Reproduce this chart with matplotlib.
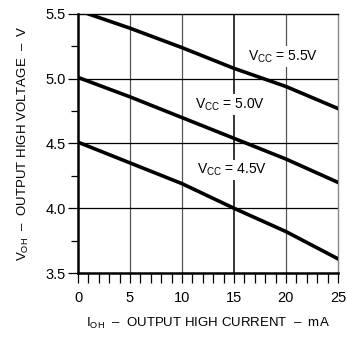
import matplotlib.pyplot as plt
from matplotlib.ticker import MultipleLocator

# --- Data ---
i_oh = [0, 5, 10, 15, 20, 25]
v_55_x = [1, 5, 10, 15, 20, 25]
v_55 = [5.50, 5.39, 5.24, 5.08, 4.94, 4.77]
v_50 = [5.01, 4.86, 4.70, 4.54, 4.38, 4.20]
v_45 = [4.51, 4.35, 4.19, 4.00, 3.82, 3.61]

labels = ["$\\mathregular{V_{CC}}$ = 5.5V", "$\\mathregular{V_{CC}}$ = 5.0V", "$\\mathregular{V_{CC}}$ = 4.5V"]
label_pos = [(19.7, 5.17), (14.6, 4.80), (14.8, 4.295)]

plt.rcParams['font.family'] = ['Liberation Sans', 'DejaVu Sans']
plt.rcParams['mathtext.fontset'] = 'custom'
plt.rcParams['mathtext.rm'] = 'Liberation Sans'

fig = plt.figure(figsize=(3.47, 3.40), dpi=100)
ax = fig.add_axes([0.2248, 0.197, 0.749, 0.762])

# grid
for x in [5, 10, 20]:
    ax.axvline(x, color='#555555', lw=0.9, zorder=1)
ax.axvline(15, color='black', lw=1.1, zorder=1)
for y in [4.0, 4.5, 5.0]:
    ax.axhline(y, color='black', lw=0.9, zorder=1)

ax.plot(v_55_x, v_55, color='black', lw=2.6, zorder=3)
ax.plot(i_oh, v_50, color='black', lw=2.6, zorder=3)
ax.plot(i_oh, v_45, color='black', lw=2.6, zorder=3)

for txt, (x, y) in zip(labels, label_pos):
    ax.text(x, y, txt, fontsize=10, ha='center', va='center', zorder=2,
            bbox=dict(facecolor='white', edgecolor='none', pad=1.5))

ax.set_xlim(0, 25)
ax.set_ylim(3.5, 5.5)
ax.xaxis.set_major_locator(MultipleLocator(5))
ax.xaxis.set_minor_locator(MultipleLocator(1))
ax.yaxis.set_major_locator(MultipleLocator(0.5))
ax.yaxis.set_minor_locator(MultipleLocator(0.25))
ax.set_yticklabels([f"{v:.1f}" for v in ax.get_yticks()])
ax.tick_params(which='both', direction='out', labelsize=10.5, width=0.9, colors='black')
ax.tick_params(axis='x', which='both', length=7, pad=6)
ax.tick_params(axis='y', which='major', length=7, pad=2)
ax.tick_params(axis='y', which='minor', length=5)

ax.spines['left'].set_linewidth(1.8)
ax.spines['bottom'].set_linewidth(1.8)
ax.spines['top'].set_linewidth(1.0)
ax.spines['right'].set_linewidth(1.0)
ax.spines['right'].set_color('#888888')

ax.set_xlabel("$\\mathregular{I_{OH}}$  \u2013  OUTPUT HIGH CURRENT  \u2013  mA", fontsize=9.5, labelpad=8)
ax.set_ylabel("$\\mathregular{V_{OH}}$  \u2013  OUTPUT HIGH VOLTAGE  \u2013  V", fontsize=9.5, labelpad=10)

fig.savefig("out.png", dpi=100)
